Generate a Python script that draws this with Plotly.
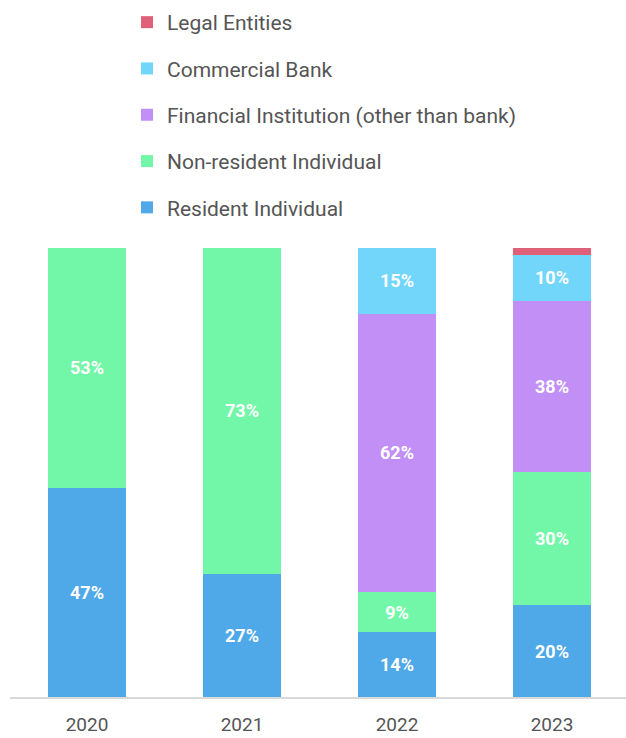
import plotly.graph_objects as go

years = ["2020", "2021", "2022", "2023"]

resident_individual = [46.6, 27.4, 14.4, 20.4]
non_resident_individual = [53.4, 72.6, 8.9, 29.8]
financial_institution = [0, 0, 62.1, 38.1]
commercial_bank = [0, 0, 14.6, 10.1]
legal_entities = [0, 0, 0, 1.6]

series = [
    ("Resident Individual", resident_individual, "#4FA8E8", True),
    ("Non-resident Individual", non_resident_individual, "#72F7A8", True),
    ("Financial Institution (other than bank)", financial_institution, "#C18FF5", True),
    ("Commercial Bank", commercial_bank, "#72D6FB", True),
    ("Legal Entities", legal_entities, "#E0607A", False),
]

FONT = "Roboto"

fig = go.Figure()
for i, (name, vals, color, show_text) in enumerate(series):
    labels = [f"{v:.0f}%" if (show_text and v > 0) else "" for v in vals]
    fig.add_trace(go.Bar(
        x=years, y=vals, name=name, legendgroup=name,
        legendrank=len(series) - i,
        marker=dict(color=color, line=dict(width=0)),
        text=labels, texttemplate="%{text}", textposition="inside",
        insidetextanchor="middle", textangle=0,
        textfont=dict(family=FONT, size=18, color="white", weight="bold"),
        hoverinfo="skip",
    ))

fig.update_layout(
    barmode="stack",
    bargap=0.497,
    width=626, height=738,
    margin=dict(l=10, r=0, t=248, b=41, autoexpand=False),
    paper_bgcolor="white", plot_bgcolor="white",
    uniformtext=dict(mode="show", minsize=10),
    font=dict(family=FONT, color="#555555", size=18),
    legend=dict(
        traceorder="grouped",
        tracegroupgap=16,
        x=(127 - 10) / 616, y=1 + (248 - 2) / 449,
        xanchor="left", yanchor="top",
        font=dict(family=FONT, size=21, color="#555555"),
        itemwidth=30,
    ),
    xaxis=dict(
        range=[-77 / 155, -77 / 155 + 616 / 155],
        showline=True, linecolor="#D9D9D9", linewidth=2,
        ticks="", ticklabelstandoff=9,
        tickfont=dict(family=FONT, size=19, color="#555555"),
        showgrid=False, zeroline=False,
    ),
    yaxis=dict(range=[0, 100], visible=False, showgrid=False, zeroline=False),
)

fig.write_html("out.html")
